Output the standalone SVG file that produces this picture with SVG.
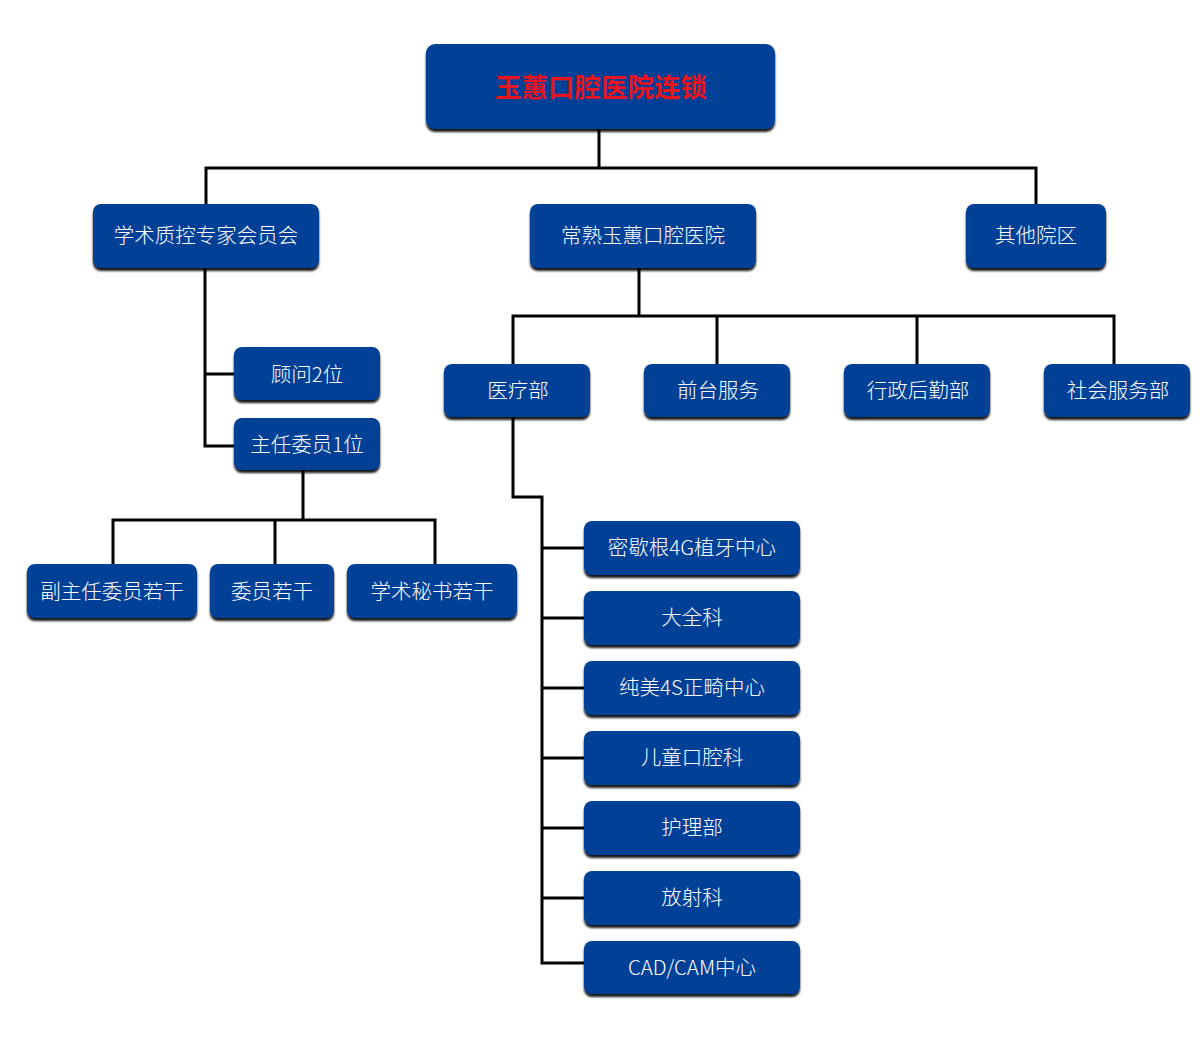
<svg xmlns="http://www.w3.org/2000/svg" width="1200" height="1048" viewBox="0 0 1200 1048">
<defs>
<filter id="sh" x="-10%" y="-20%" width="120%" height="150%">
<feDropShadow dx="0" dy="3" stdDeviation="1.2" flood-color="#000" flood-opacity="0.9"/>
</filter>
<style>
.box{fill:#034196;filter:url(#sh);}
.t{font-family:"Noto Sans CJK SC","Liberation Sans",sans-serif;font-size:20.5px;font-weight:300;fill:#ffffff;text-anchor:middle;dominant-baseline:central;}
.title{font-family:"Noto Sans CJK SC","Liberation Sans",sans-serif;font-size:26.5px;font-weight:bold;fill:#e8141e;text-anchor:middle;dominant-baseline:central;}
.c{fill:none;stroke:#000;stroke-width:3;stroke-linejoin:miter;}
</style>
</defs>
<rect width="1200" height="1048" fill="#fff"/>
<g id="connectors">
<path class="c" d="M599,129 V168 M206,204 V168 H1036 V204"/>
<path class="c" d="M205,268 V446 H236 M205,374 H236"/>
<path class="c" d="M303,470 V520 M113,564 V520 H435 V564 M275,520 V564"/>
<path class="c" d="M639,268 V316 M513,364 V316 H1114 V364 M717,316 V364 M917,316 V364"/>
<path class="c" d="M513,417 V497 H542 V963 H586 M542,548 H586 M542,618 H586 M542,688 H586 M542,758 H586 M542,828 H586 M542,898 H586"/>
</g>
<g id="n0"><rect class="box" x="426" y="44" width="349" height="85" rx="9"/><text class="title" x="601" y="85">玉蕙口腔医院连锁</text></g>
<g id="n1"><rect class="box" x="93" y="204" width="226" height="64" rx="8"/><text class="t" x="206" y="234">学术质控专家会员会</text></g>
<g id="n2"><rect class="box" x="530" y="204" width="226" height="64" rx="8"/><text class="t" x="643" y="234">常熟玉蕙口腔医院</text></g>
<g id="n3"><rect class="box" x="966" y="204" width="140" height="64" rx="8"/><text class="t" x="1036" y="234">其他院区</text></g>
<g id="n4"><rect class="box" x="234" y="347" width="146" height="53" rx="8"/><text class="t" x="307" y="373">顾问2位</text></g>
<g id="n5"><rect class="box" x="234" y="418" width="146" height="52" rx="8"/><text class="t" x="307" y="443">主任委员1位</text></g>
<g id="n6"><rect class="box" x="27" y="564" width="170" height="54" rx="8"/><text class="t" x="112" y="590">副主任委员若干</text></g>
<g id="n7"><rect class="box" x="210" y="564" width="124" height="54" rx="8"/><text class="t" x="272" y="590">委员若干</text></g>
<g id="n8"><rect class="box" x="347" y="564" width="170" height="54" rx="8"/><text class="t" x="432" y="590">学术秘书若干</text></g>
<g id="n9"><rect class="box" x="444" y="364" width="146" height="53" rx="8"/><text class="t" x="518" y="389">医疗部</text></g>
<g id="n10"><rect class="box" x="644" y="364" width="146" height="53" rx="8"/><text class="t" x="718" y="389">前台服务</text></g>
<g id="n11"><rect class="box" x="844" y="364" width="146" height="53" rx="8"/><text class="t" x="918" y="389">行政后勤部</text></g>
<g id="n12"><rect class="box" x="1044" y="364" width="146" height="53" rx="8"/><text class="t" x="1118" y="389">社会服务部</text></g>
<g id="n13"><rect class="box" x="584" y="521" width="216" height="54" rx="8"/><text class="t" x="692" y="546">密歇根4G植牙中心</text></g>
<g id="n14"><rect class="box" x="584" y="591" width="216" height="54" rx="8"/><text class="t" x="692" y="616">大全科</text></g>
<g id="n15"><rect class="box" x="584" y="661" width="216" height="54" rx="8"/><text class="t" x="692" y="686">纯美4S正畸中心</text></g>
<g id="n16"><rect class="box" x="584" y="731" width="216" height="54" rx="8"/><text class="t" x="692" y="756">儿童口腔科</text></g>
<g id="n17"><rect class="box" x="584" y="801" width="216" height="54" rx="8"/><text class="t" x="692" y="826">护理部</text></g>
<g id="n18"><rect class="box" x="584" y="871" width="216" height="54" rx="8"/><text class="t" x="692" y="896">放射科</text></g>
<g id="n19"><rect class="box" x="584" y="941" width="216" height="53" rx="8"/><text class="t" x="692" y="966">CAD/CAM中心</text></g>
</svg>
